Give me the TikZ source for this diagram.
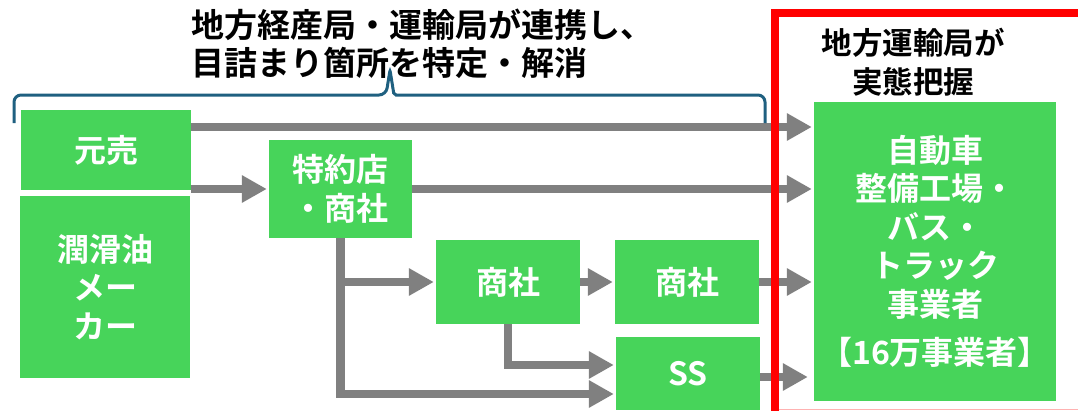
\documentclass[tikz,border=0pt]{standalone}
\usepackage{fontspec}
\setmainfont{Noto Sans CJK JP}[BoldFont={Noto Sans CJK JP Bold}]
\usepackage{tikz}
\usetikzlibrary{arrows.meta}

\definecolor{boxgreen}{RGB}{71,212,90}
\definecolor{flowgray}{RGB}{128,128,128}
\definecolor{braceblue}{RGB}{31,96,128}
\definecolor{frame red}{RGB}{255,0,0}

\tikzset{
	box/.style={fill=boxgreen, text=white, align=center, inner sep=0pt,
		font=\bfseries\fontsize{32}{38.5}\selectfont},
	flow/.style={draw=flowgray, line width=8.5pt, shorten >=2pt,
		-{Triangle[length=25pt,width=26pt]}},
	heading/.style={inner sep=0pt, font=\bfseries\fontsize{33}{38}\selectfont}
}

\begin{document}
\begin{tikzpicture}[x=1pt, y=-1pt]

		\useasboundingbox (0,0) rectangle (1078,410);

		\node[heading, align=left, anchor=west] (renkei) at (191,44) {地方経産局・運輸局が連携し、\\目詰まり箇所を特定・解消};
		\node[heading, align=center, font=\bfseries\fontsize{30.5}{39}\selectfont] (haaku) at (913,62) {地方運輸局が\\実態把握};

		\node[box, minimum width=170pt, minimum height=80pt] (motouri) at (106,150) {元売};
		\node[box, minimum width=170pt, minimum height=182pt] (maker) at (105,287) {潤滑油\\メー\\カー};
		\node[box, minimum width=143pt, minimum height=98pt] (tokuyaku) at (340.5,189) {特約店\\・商社};
		\node[box, minimum width=144pt, minimum height=84pt] (shosha1) at (508,282) {商社};
		\node[box, minimum width=144pt, minimum height=84pt] (shosha2) at (687,282) {商社};
		\node[box, minimum width=144pt, minimum height=73pt] (ss) at (688,373.5) {SS};
		\node[box, minimum width=242pt, minimum height=299pt] (jigyo) at (935,251.5) {自動車\\整備工場・\\バス・\\トラック\\事業者\\[10pt]【16万事業者】};

		% rows of the flows
		\coordinate (r1) at (0,127);
		\coordinate (r6) at (0,365);
		\coordinate (r7) at (0,394);
		\coordinate (r8) at (0,377);

		\draw[flow] (motouri.east |- r1) -- (jigyo.west |- r1);
		\draw[flow] (tokuyaku.west -| motouri.east) -- (tokuyaku.west);
		\draw[flow] (tokuyaku.east) -- (tokuyaku.east -| jigyo.west);
		\draw[flow] (tokuyaku.south) |- (ss.west |- r7);
		\draw[flow] (tokuyaku.south |- shosha1.west) -- (shosha1.west);
		\draw[flow] (shosha1.east) -- (shosha2.west);
		\draw[flow] (shosha1.south) |- (ss.west |- r6);
		\draw[flow] (shosha2.east) -- (shosha2.east -| jigyo.west);
		\draw[flow, shorten >=6pt] (ss.east |- r8) -- (jigyo.west |- r8);

		% brace over the chain
		\draw[braceblue, line width=3pt] (14,123) [rounded corners=7pt] |- (386,95) [rounded corners=2pt] -- (390,70) -- (394,95) [rounded corners=7pt] -| (765,123);

		% red frame
		\draw[frame red, line width=8.5pt] (775,420) |- (1090,13);
		\draw[frame red!30, line width=1pt] (779,409.5) -- (1078,409.5);

	\end{tikzpicture}
\end{document}
